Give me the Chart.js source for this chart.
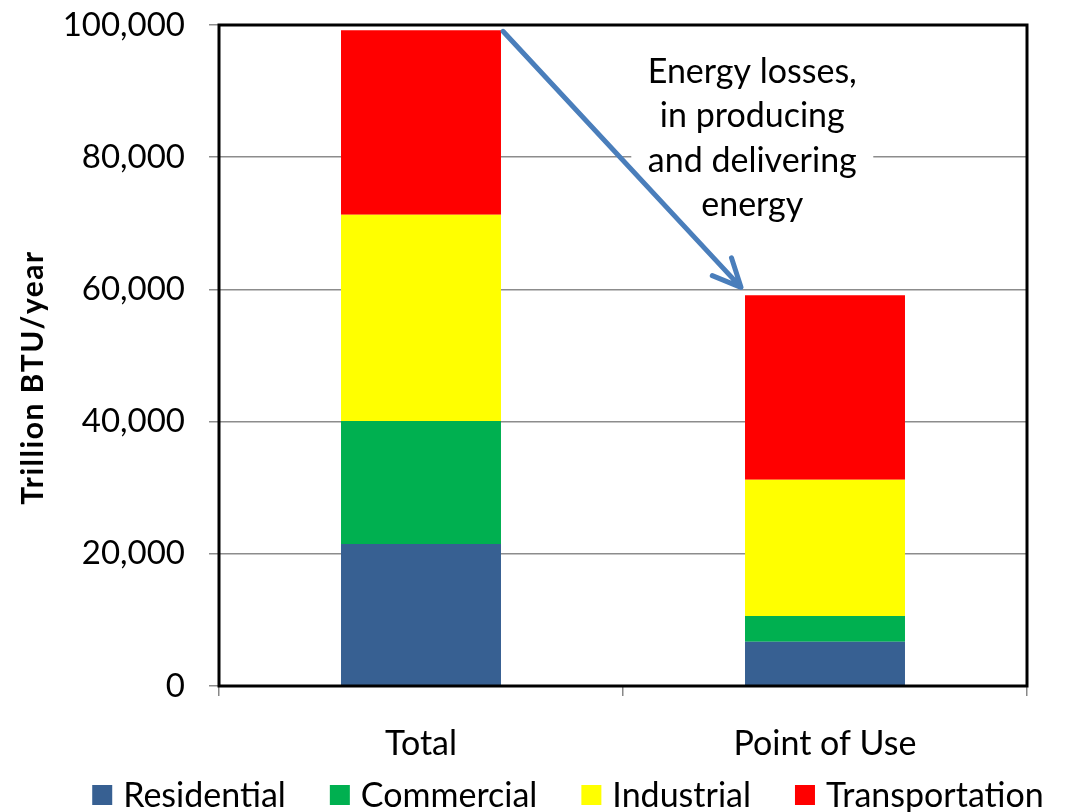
<!DOCTYPE html>
<html>
<head>
<meta charset="utf-8">
<script src="https://cdn.jsdelivr.net/npm/chart.js@4/dist/chart.umd.min.js"></script>
<style>
  html, body { margin: 0; padding: 0; background: #ffffff; }
  #wrap { width: 1067px; height: 812px; position: relative; }
</style>
</head>
<body>
<div id="wrap"><canvas id="energy"></canvas></div>
<script>
// U.S. energy use by sector, trillion BTU per year
const categories = ['Total', 'Point of Use'];
const residential = [21500, 6700];
const commercial = [18600, 3900];
const industrial = [31200, 20600];
const transportation = [27900, 27900];
const yTicks = [0, 20000, 40000, 60000, 80000, 100000];
const seriesNames = ['Residential', 'Commercial', 'Industrial', 'Transportation'];
const seriesColors = ['#376092', '#00B050', '#FFFF00', '#FF0000'];
const noteLines = ['Energy losses,', 'in producing', 'and delivering', 'energy'];
const yTitle = 'Trillion BTU/year';

const FONT = 'Lato, "Open Sans", sans-serif';
const TEXT_SIZE = 34;
const NUM_SIZE = 33;

// Frame, y-axis title, loss note with arrow, and legend row
const decorations = {
  id: 'decorations',
  beforeDatasetsDraw(chart) {
    const { ctx, chartArea: a } = chart;
    const cx = a.left + (a.right - a.left) * 0.66;
    ctx.save();
    ctx.fillStyle = '#ffffff';
    ctx.fillRect(cx - 121, a.top + 22, 242, 200);
    ctx.restore();
  },
  afterDatasetsDraw(chart) {
    const { ctx, chartArea: a } = chart;
    const w = a.right - a.left;

    // note text
    const cx = a.left + w * 0.66;
    ctx.save();
    ctx.fillStyle = '#000000';
    ctx.font = `${TEXT_SIZE}px ${FONT}`;
    ctx.textAlign = 'center';
    ctx.textBaseline = 'middle';
    noteLines.forEach((t, i) => ctx.fillText(t, cx, a.top + 47 + i * 44.5));
    ctx.restore();

    // arrow from top of the first stack to top of the second
    const topMeta = chart.getDatasetMeta(3);
    const b0 = topMeta.data[0], b1 = topMeta.data[1];
    const x0 = b0.x + b0.width / 2 + 2, y0 = b0.y + 1;
    const x1 = b1.x - b1.width / 2 - 4, y1 = b1.y - 8;
    const ang = Math.atan2(y1 - y0, x1 - x0);
    ctx.save();
    ctx.strokeStyle = '#4A7EBB';
    ctx.lineWidth = 5;
    ctx.lineCap = 'round';
    ctx.lineJoin = 'round';
    ctx.beginPath();
    ctx.moveTo(x0, y0);
    ctx.lineTo(x1, y1);
    const len = 31, spread = 25 * Math.PI / 180;
    ctx.moveTo(x1 - len * Math.cos(ang - spread), y1 - len * Math.sin(ang - spread));
    ctx.lineTo(x1, y1);
    ctx.lineTo(x1 - len * Math.cos(ang + spread), y1 - len * Math.sin(ang + spread));
    ctx.stroke();
    ctx.restore();

    // plot frame
    ctx.save();
    ctx.strokeStyle = '#000000';
    ctx.lineWidth = 3;
    ctx.strokeRect(a.left, a.top, w, a.bottom - a.top);
    ctx.restore();
  },
  afterDraw(chart) {
    const { ctx, chartArea: a } = chart;
    // y-axis title
    ctx.save();
    ctx.translate(33, (a.top + a.bottom) / 2 + 22);
    ctx.rotate(-Math.PI / 2);
    ctx.font = `bold 30px ${FONT}`;
    ctx.letterSpacing = '1.5px';
    ctx.fillStyle = '#000000';
    ctx.textAlign = 'center';
    ctx.textBaseline = 'middle';
    ctx.fillText(yTitle, 0, 0);
    ctx.restore();

    // legend row
    ctx.save();
    ctx.font = `${TEXT_SIZE}px ${FONT}`;
    ctx.textBaseline = 'middle';
    ctx.textAlign = 'left';
    const box = 20, gapText = 11, gapItem = 44;
    const items = chart.data.datasets.map(d => ({
      label: d.label, color: d.backgroundColor, tw: ctx.measureText(d.label).width
    }));
    const total = items.reduce((s, it) => s + box + gapText + it.tw, 0) + gapItem * (items.length - 1);
    let x = 568 - total / 2;
    const yc = 795;
    items.forEach(it => {
      ctx.fillStyle = it.color;
      ctx.fillRect(x, yc - box / 2, box, box);
      ctx.fillStyle = '#000000';
      ctx.fillText(it.label, x + box + gapText, yc + 1);
      x += box + gapText + it.tw + gapItem;
    });
    ctx.restore();
  }
};

const seriesData = [residential, commercial, industrial, transportation];

new Chart(document.getElementById('energy'), {
  type: 'bar',
  data: {
    labels: categories,
    datasets: seriesNames.map((name, i) => ({
      label: name,
      data: seriesData[i],
      backgroundColor: seriesColors[i],
      borderWidth: 0,
      categoryPercentage: 1,
      barPercentage: 0.396
    }))
  },
  options: {
    responsive: true,
    maintainAspectRatio: false,
    animation: false,
    devicePixelRatio: 1,
    layout: { padding: { top: 25, right: 40, bottom: 0, left: 0 } },
    plugins: {
      legend: { display: false },
      tooltip: { enabled: false }
    },
    scales: {
      x: {
        stacked: true,
        offset: true,
        grid: {
          display: true,
          offset: true,
          drawOnChartArea: false,
          drawTicks: true,
          tickLength: 10,
          color: '#888888',
          lineWidth: 1.5
        },
        border: { display: true, color: '#888888', width: 1 },
        ticks: {
          color: '#000000',
          font: { family: FONT, size: TEXT_SIZE },
          padding: 28
        },
        afterFit(scale) { scale.height = 126; }
      },
      y: {
        stacked: true,
        min: 0,
        max: 100000,
        afterBuildTicks(scale) { scale.ticks = yTicks.map(v => ({ value: v })); },
        grid: {
          color: '#8C8C8C',
          lineWidth: 1.5,
          tickLength: 10
        },
        border: { display: true, color: '#888888', width: 1 },
        ticks: {
          color: '#000000',
          font: { family: FONT, size: NUM_SIZE },
          padding: 24,
          callback: v => v.toLocaleString('en-US')
        },
        afterFit(scale) {
          scale.width = 219;
          scale.paddingTop = 0;
          scale.paddingBottom = 0;
        }
      }
    }
  },
  plugins: [decorations]
});
</script>
</body>
</html>
